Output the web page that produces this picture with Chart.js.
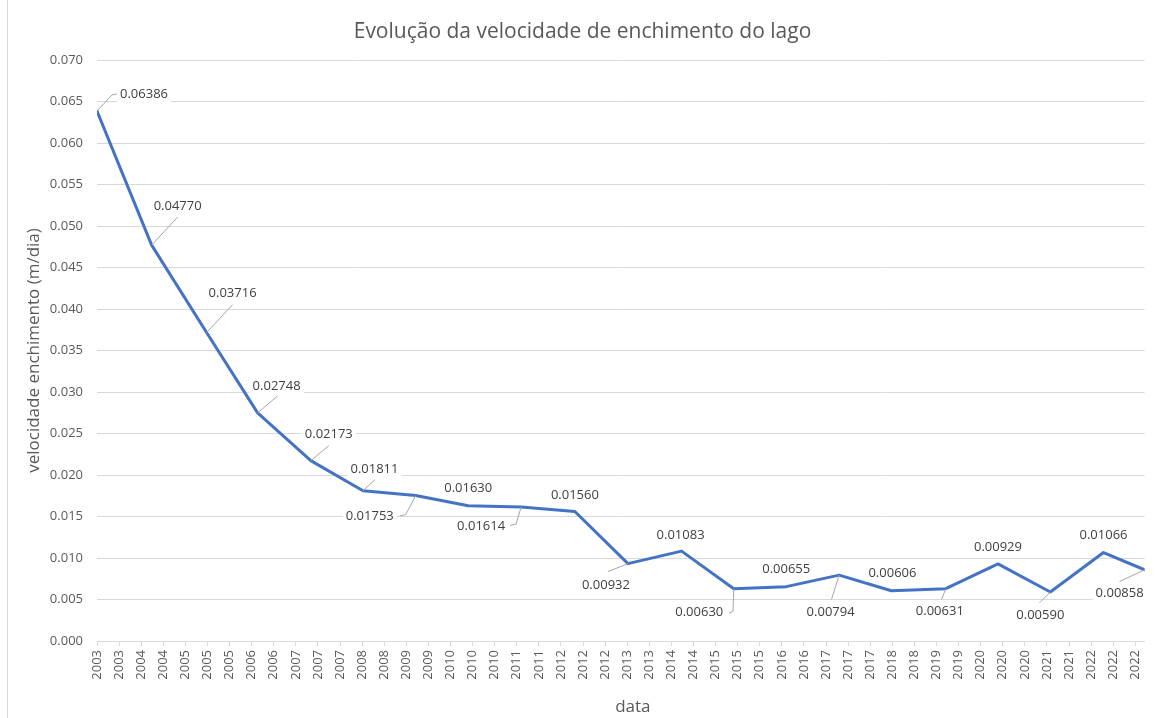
<!DOCTYPE html>
<html><head><meta charset="utf-8">
<script src="https://cdn.jsdelivr.net/npm/chart.js@4.4.1/dist/chart.umd.min.js"></script>
<style>html,body{margin:0;padding:0;background:#fff}canvas{display:block}</style>
</head><body>
<canvas id="c" width="1155" height="718"></canvas>
<script>
// ---- data ----
const datas = ["2003-05-20","2004-05-30","2005-06-12","2006-05-29","2007-05-30","2008-05-23","2009-05-21","2010-05-17","2011-05-16","2012-05-20","2013-05-20","2014-05-24","2015-05-18","2016-05-13","2017-05-12","2018-05-07","2019-05-16","2020-05-09","2021-05-04","2022-05-05","2023-02-12"];
const velocidades = [0.06386,0.04770,0.03716,0.02748,0.02173,0.01811,0.01753,0.01630,0.01614,0.01560,0.00932,0.01083,0.00630,0.00655,0.00794,0.00606,0.00631,0.00929,0.00590,0.01066,0.00858];
const tickLabels = ["2003","2003","2004","2004","2005","2005","2005","2006","2006","2007","2007","2007","2008","2008","2009","2009","2010","2010","2010","2011","2011","2012","2012","2012","2013","2013","2014","2014","2015","2015","2015","2016","2016","2017","2017","2017","2018","2018","2019","2019","2020","2020","2020","2021","2021","2022","2022","2022"];
const passoDias = 152;

// label placement (offsets from point, px)
const labelOffsets = [[47,-17],[26,-39],[26,-39],[19,-27],[18,-26],[11.5,-21],[-46,21],[0,-17],[-40,19],[0,-16],[-22,22],[-1,-16],[-34.5,24],[0,-17],[-8.5,37],[1,-17],[-6,23],[0,-17],[-10,23],[0,-17],[-25,24]];
const leaders = [
  [[0,0],[15,-16],[20,-17]],
  [[0,0],[26,-28]],
  [[0,0],[26,-28]],
  [[0,0],[20,-17]],
  [[0,0],[18,-15]],
  [[0,0],[12,-11]],
  [[0,0],[-10,19],[-16,20.5]],
  null,
  [[0,0],[-5,17],[-11,18.5]],
  null,
  [[0,0],[-20,8]],
  null,
  [[0,0],[-0.7,22.7],[-4.7,24.3]],
  null,
  [[0,0],[-7.6,24.3]],
  null,
  [[0,0],[-4.3,11]],
  null,
  [[0,0],[-10.7,10.7]],
  null,
  [[0,0],[-25,11.6]]
];

const t0 = Date.parse(datas[0]);
const dia = d => (Date.parse(d) - t0) / 86400000;
const pontos = datas.map((d, i) => ({x: dia(d), y: velocidades[i]}));

const FONT = '"Open Sans", "Noto Sans", sans-serif';

const labelPlugin = {
  id: 'rotulos',
  beforeDraw(chart) {
    const ctx = chart.ctx;
    ctx.save();
    ctx.fillStyle = '#fff';
    ctx.fillRect(0, 0, chart.width, chart.height);
    ctx.strokeStyle = '#d9d9d9';
    ctx.lineWidth = 1;
    ctx.beginPath(); ctx.moveTo(7.5, 0); ctx.lineTo(7.5, chart.height); ctx.stroke();
    ctx.restore();
  },
  afterDraw(chart) {
    const ctx = chart.ctx;
    const a = chart.chartArea;
    ctx.save();
    ctx.font = '17px ' + FONT;
    ctx.fillStyle = '#595959';
    ctx.textAlign = 'center';
    ctx.textBaseline = 'middle';
    ctx.fillText('data', (a.left + a.right) / 2 + 12, 707);
    ctx.restore();
  },
  afterDatasetsDraw(chart) {
    const ctx = chart.ctx;
    const meta = chart.getDatasetMeta(0);
    ctx.save();
    ctx.font = '13px ' + FONT;
    ctx.textAlign = 'center';
    ctx.textBaseline = 'middle';
    const items = meta.data.map((pt, i) => {
      const txt = velocidades[i].toFixed(5);
      const w = ctx.measureText(txt).width;
      return {pt, txt, w, cx: pt.x + labelOffsets[i][0], cy: pt.y + labelOffsets[i][1], lead: leaders[i]};
    });
    items.forEach(it => {
      ctx.fillStyle = '#fff';
      ctx.fillRect(it.cx - it.w / 2 - 3, it.cy - 8, it.w + 6, 16);
    });
    ctx.strokeStyle = '#a6a6a6';
    ctx.lineWidth = 1;
    items.forEach(it => {
      if (!it.lead) return;
      ctx.beginPath();
      it.lead.forEach(([dx, dy], k) => {
        const x = it.pt.x + dx, y = it.pt.y + dy;
        if (k) ctx.lineTo(x, y); else ctx.moveTo(x, y);
      });
      ctx.stroke();
    });
    ctx.fillStyle = '#404040';
    items.forEach(it => ctx.fillText(it.txt, it.cx, it.cy));
    ctx.restore();
  }
};

new Chart(document.getElementById('c'), {
  type: 'line',
  data: {
    datasets: [{
      data: pontos,
      borderColor: '#4472C4',
      borderWidth: 3,
      pointRadius: 0,
      tension: 0,
      fill: false,
      borderCapStyle: 'round',
      borderJoinStyle: 'round'
    }]
  },
  plugins: [labelPlugin],
  options: {
    responsive: false,
    animation: false,
    devicePixelRatio: 1,
    layout: {padding: {left: 18, right: 8, top: 0, bottom: 0}},
    plugins: {
      legend: {display: false},
      tooltip: {enabled: false},
      title: {
        display: true,
        text: 'Evolução da velocidade de enchimento do lago',
        color: '#595959',
        font: {family: FONT, size: 21, weight: 'normal', lineHeight: 1.2},
        padding: {top: 19, bottom: 15.8}
      }
    },
    scales: {
      x: {
        type: 'linear',
        min: 0,
        max: dia(datas[datas.length - 1]),
        afterBuildTicks: s => { s.ticks = tickLabels.map((_, i) => ({value: i * passoDias})); },
        afterFit: s => { s.height = 77; },
        grid: {drawOnChartArea: false, drawTicks: true, tickLength: 5, color: '#d9d9d9'},
        border: {display: true, color: '#d9d9d9'},
        ticks: {
          autoSkip: false, minRotation: 90, maxRotation: 90, padding: 4,
          color: '#595959', font: {family: FONT, size: 13},
          callback: (v, i) => tickLabels[i]
        },
        title: {display: false, text: 'data'}
      },
      y: {
        min: 0, max: 0.07,
        afterFit: s => { s.width = 79; },
        grid: {drawTicks: false, color: '#d9d9d9'},
        border: {display: false},
        ticks: {stepSize: 0.005, padding: 14, color: '#595959', font: {family: FONT, size: 13}, callback: v => v.toFixed(3)},
        title: {display: true, text: 'velocidade enchimento (m/dia)', color: '#595959', font: {family: FONT, size: 17}, padding: {top: 6, bottom: 0}}
      }
    }
  }
});
</script>
</body></html>
